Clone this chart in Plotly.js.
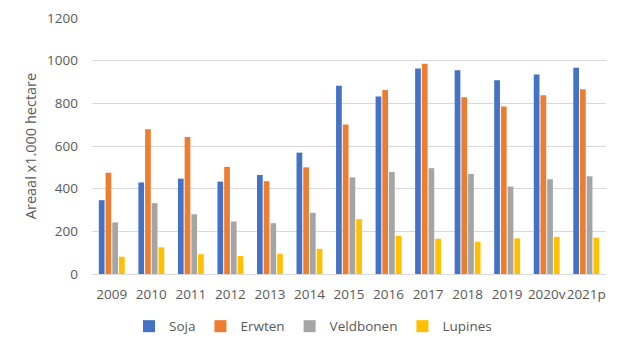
<!DOCTYPE html>
<html>
<head>
<meta charset="utf-8">
<script src="https://cdn.plot.ly/plotly-3.0.1.min.js"></script>
<style>html,body{margin:0;padding:0;background:#fff;}#chart{width:625px;height:353px;}</style>
</head>
<body>
<div id="chart"></div>
<script>
const years = ["2009","2010","2011","2012","2013","2014","2015","2016","2017","2018","2019","2020v","2021p"];
const soja      = [346, 429, 447, 433, 464, 569, 882, 832, 963, 955, 908, 935, 967];
const erwten    = [475, 678, 642, 502, 435, 500, 701, 862, 986, 829, 785, 838, 866];
const veldbonen = [242, 332, 280, 246, 238, 287, 453, 478, 496, 469, 410, 444, 458];
const lupines   = [81, 125, 93, 84, 95, 118, 257, 179, 165, 151, 167, 174, 170];
const yTicks = [0, 200, 400, 600, 800, 1000, 1200];

const names = ["Soja", "Erwten", "Veldbonen", "Lupines"];
const series = [soja, erwten, veldbonen, lupines];
const colors = ["#4472C4", "#ED7D31", "#A5A5A5", "#FFC000"];

const traces = series.map((s, i) => ({
  type: "bar", name: names[i], x: years, y: s,
  marker: {color: colors[i]}, hoverinfo: "skip"
}));

const fam = "Open Sans, Liberation Sans, sans-serif";
const font = {family: fam, size: 13.5, color: "#595959"};
const layout = {
  width: 625, height: 353,
  margin: {l: 92, r: 19, t: 18, b: 78},
  paper_bgcolor: "#fff", plot_bgcolor: "#fff",
  barmode: "group", bargap: 0.32, bargroupgap: 0.15,
  font: font,
  showlegend: true,
  legend: {orientation: "h", x: 0.43, xanchor: "center", y: -0.2, yanchor: "middle",
           font: {family: fam, size: 13.5, color: "#595959"}, itemwidth: 30, traceorder: "normal"},
  xaxis: {type: "category", showgrid: false, showline: true, linecolor: "#d9d9d9",
          ticks: "", tickfont: font, tickangle: 0, ticklabelstandoff: 8, fixedrange: true},
  yaxis: {range: [0, 1200], tickvals: yTicks, ticktext: yTicks.map(String),
          showgrid: true, gridcolor: "#d9d9d9", gridwidth: 1, zeroline: false,
          showline: false, ticks: "", ticklen: 0, tickfont: font, ticklabelstandoff: 13,
          title: {text: "Areaal x1.000 hectare", font: {family: fam, size: 14.5, color: "#595959"}, standoff: 7}}
};
Plotly.newPlot("chart", traces, layout, {displayModeBar: false, staticPlot: true});
</script>
</body>
</html>
